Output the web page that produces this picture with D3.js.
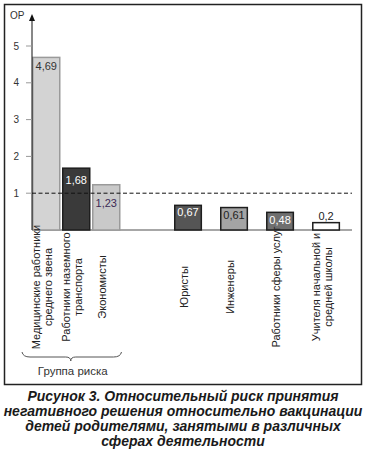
<!DOCTYPE html>
<html>
<head>
<meta charset="utf-8">
<script src="https://cdn.jsdelivr.net/npm/d3@7"></script>
<style>
  body { margin: 0; background: #fff; }
  svg { display: block; }
</style>
</head>
<body>
<div id="chart"></div>
<script>
// risk group (left block)
const riskCategories = [
  ['Медицинские работники', 'среднего звена'],
  ['Работники  наземного', 'транспорта'],
  ['Экономисты']
];
const riskValues = [4.69, 1.68, 1.23];

// other occupations (right block)
const otherCategories = [
  ['Юристы'],
  ['Инженеры'],
  ['Работники сферы услуг'],
  ['Учителя начальной и', 'средней школы']
];
const otherValues = [0.67, 0.61, 0.48, 0.2];

const yTicks = [1, 2, 3, 4, 5];
const referenceValue = 1;
const groupLabel = 'Группа риска';
const yLabel = 'ОР';
const captionLines = [
  'Рисунок 3. Относительный риск принятия',
  'негативного решения относительно вакцинации',
  'детей родителями, занятыми в различных',
  'сферах деятельности'
];

// styles
const riskFills = ['#d3d3d3', '#3a3a3a', '#c9c9c9'];
const riskStrokes = ['#9a9a9a', '#1e1e1e', '#9a9a9a'];
const riskLabelColors = ['#333', '#fff', '#3b2a55'];
const riskLabelDy = [13, 16, 22];
const otherFills = ['#555555', '#a4a4a4', '#6f6f6f', '#ffffff'];
const otherStrokes = ['#1e1e1e', '#1e1e1e', '#1e1e1e', '#1e1e1e'];
const otherLabelColors = ['#fff', '#222', '#fff', '#222'];
const otherLabelDy = [11, 11, 12, -3];

const width = 366;
const height = 454;
const axisX = 32;
const narrow = '"Liberation Sans Narrow", "Liberation Sans", Arial, sans-serif';
const sans = '"Liberation Sans", Arial, sans-serif';

const fmt = d3.formatLocale({ decimal: ',', thousands: ' ', grouping: [3], currency: ['', ''] }).format('~g');

const svg = d3.select('#chart')
  .append('svg')
  .attr('width', width)
  .attr('height', height);

// frame
svg.append('rect')
  .attr('x', 4.5).attr('y', 4.5)
  .attr('width', 357).attr('height', 380)
  .attr('fill', 'none')
  .attr('stroke', '#222')
  .attr('stroke-width', 1.5);

const y = d3.scaleLinear().domain([0, 5]).range([230, 46]);

const xRisk = d3.scaleBand()
  .domain(d3.range(riskValues.length))
  .range([axisX, 120.5])
  .paddingInner(0.05)
  .paddingOuter(0);

const xOther = d3.scaleBand()
  .domain(d3.range(otherValues.length))
  .range([164.8, 349.3])
  .paddingInner(0.39)
  .paddingOuter(0.2);

// baseline
svg.append('line')
  .attr('x1', axisX).attr('x2', 352)
  .attr('y1', y(0)).attr('y2', y(0))
  .attr('stroke', '#8a8a8a')
  .attr('stroke-width', 1.5);

function drawBars(cls, values, xScale, fills, strokes, labelColors, labelDy) {
  const g = svg.append('g').attr('class', cls);

  g.selectAll('rect')
    .data(values)
    .enter()
    .append('rect')
    .attr('x', (d, i) => xScale(i) + 0.75)
    .attr('y', d => y(d))
    .attr('width', xScale.bandwidth() - 1.5)
    .attr('height', d => y(0) - y(d))
    .attr('fill', (d, i) => fills[i])
    .attr('stroke', (d, i) => strokes[i])
    .attr('stroke-width', 1.5);

  g.selectAll('text')
    .data(values)
    .enter()
    .append('text')
    .attr('x', (d, i) => xScale(i) + xScale.bandwidth() / 2)
    .attr('y', (d, i) => y(d) + labelDy[i])
    .attr('text-anchor', 'middle')
    .attr('font-family', sans)
    .attr('font-size', 11)
    .attr('fill', (d, i) => labelColors[i])
    .text(d => fmt(d));
}

drawBars('risk', riskValues, xRisk, riskFills, riskStrokes, riskLabelColors, riskLabelDy);
drawBars('other', otherValues, xOther, otherFills, otherStrokes, otherLabelColors, otherLabelDy);

// reference line at OR = 1
svg.append('line')
  .attr('x1', axisX).attr('x2', 352)
  .attr('y1', y(referenceValue)).attr('y2', y(referenceValue))
  .attr('stroke', '#111')
  .attr('stroke-width', 1)
  .attr('stroke-dasharray', '4,2.5');

// y axis with arrow
svg.append('line')
  .attr('x1', axisX).attr('x2', axisX)
  .attr('y1', y(0)).attr('y2', 20)
  .attr('stroke', '#111')
  .attr('stroke-width', 1);
svg.append('path')
  .attr('d', `M${axisX},14 L${axisX - 3},21 L${axisX + 3},21 Z`)
  .attr('fill', '#111');

const ticks = svg.append('g');
ticks.selectAll('line')
  .data(yTicks)
  .enter()
  .append('line')
  .attr('x1', axisX - 6).attr('x2', axisX)
  .attr('y1', d => y(d)).attr('y2', d => y(d))
  .attr('stroke', '#999')
  .attr('stroke-width', 1);
ticks.selectAll('text')
  .data(yTicks)
  .enter()
  .append('text')
  .attr('x', 19)
  .attr('y', d => y(d) + 3.5)
  .attr('text-anchor', 'end')
  .attr('font-family', sans)
  .attr('font-size', 10)
  .attr('fill', '#333')
  .text(d => d);

svg.append('text')
  .attr('x', 10).attr('y', 19)
  .attr('font-family', sans)
  .attr('font-size', 10)
  .attr('fill', '#333')
  .text(yLabel);

// rotated category labels
function drawCategoryLabels(categories, xScale) {
  const labelY = 287;
  categories.forEach((lines, i) => {
    const cx = xScale(i) + xScale.bandwidth() / 2 - 4;
    const t = svg.append('text')
      .attr('transform', `translate(${cx},${labelY}) rotate(-90)`)
      .attr('text-anchor', 'middle')
      .attr('font-family', narrow)
      .attr('font-size', 11)
      .attr('fill', '#222');
    lines.forEach((line, j) => {
      const offset = (j - (lines.length - 1) / 2) * 11.5;
      t.append('tspan')
        .attr('x', 0)
        .attr('y', offset)
        .attr('dy', '0.35em')
        .text(line);
    });
  });
}

drawCategoryLabels(riskCategories, xRisk);
drawCategoryLabels(otherCategories, xOther);

// brace under risk group
const bx0 = xRisk.range()[0] - 10;
const bx1 = xRisk.range()[1] + 1;
const bmid = (bx0 + bx1) / 2 - 1;
const by = 357;
svg.append('path')
  .attr('d', `M${bx0},${by - 5} Q${bx0 + 1},${by} ${bx0 + 8},${by}
    L${bmid - 5},${by} Q${bmid},${by} ${bmid},${by + 4}
    Q${bmid},${by} ${bmid + 5},${by}
    L${bx1 - 8},${by} Q${bx1 - 1},${by} ${bx1},${by - 5}`)
  .attr('fill', 'none')
  .attr('stroke', '#555')
  .attr('stroke-width', 1);

svg.append('text')
  .attr('x', bmid + 2).attr('y', 375)
  .attr('text-anchor', 'middle')
  .attr('font-family', narrow)
  .attr('font-size', 11.5)
  .attr('fill', '#333')
  .text(groupLabel);

// caption
svg.append('g')
  .selectAll('text')
  .data(captionLines)
  .enter()
  .append('text')
  .attr('x', 183)
  .attr('y', (d, i) => 401 + i * 15)
  .attr('text-anchor', 'middle')
  .attr('font-family', sans)
  .attr('font-size', 14)
  .attr('font-weight', 'bold')
  .attr('font-style', 'italic')
  .attr('fill', '#1a1a1a')
  .text(d => d);
</script>
</body>
</html>
